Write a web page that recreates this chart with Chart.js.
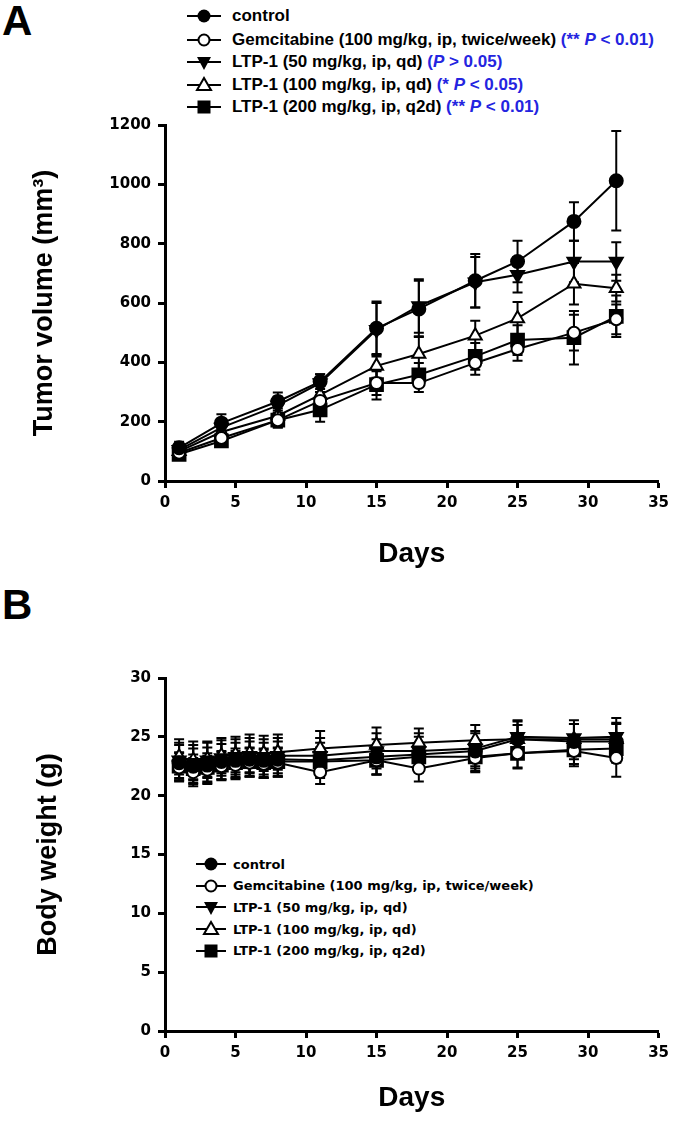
<!DOCTYPE html>
<html><head><meta charset="utf-8">
<script src="https://cdn.jsdelivr.net/npm/chart.js@4.4.0/dist/chart.umd.min.js"></script>
<style>
body{margin:0;width:675px;height:1124px;position:relative;background:#fff;overflow:hidden;font-family:"Liberation Sans",Arial,sans-serif;color:#000}
canvas{position:absolute;left:0}
.letter{position:absolute;font-weight:bold;font-size:42px;line-height:1;font-family:"Liberation Sans",Arial,sans-serif}
.row{position:absolute;white-space:nowrap;display:flex;align-items:center;height:18px}
.row svg{display:block;flex:none}
.legA{font:bold 17px "Liberation Sans",Arial,sans-serif}
.legB{font:bold 13px "DejaVu Sans",sans-serif}
.blue{color:#2424e0}
</style>
</head><body>
<div class="letter" style="left:2px;top:0px">A</div>
<div class="letter" style="left:2px;top:584px">B</div>
<div id="legA"></div>
<div id="legB"></div>
<canvas id="cA" width="675" height="475" style="top:105px"></canvas>
<canvas id="cB" width="675" height="469" style="top:655px"></canvas>
<script>
// ---------- data ----------
const seriesLabels = ["control","Gemcitabine (100 mg/kg, ip, twice/week)","LTP-1 (50 mg/kg, ip, qd)","LTP-1 (100 mg/kg, ip, qd)","LTP-1 (200 mg/kg, ip, q2d)"];
const pNotes = ["", "(** P < 0.01)", "(P > 0.05)", "(* P < 0.05)", "(** P < 0.01)"];

const tumorDays = [1,4,8,11,15,18,22,25,29,32];
const tvControl    = [112,195,268,335,515,580,675,740,875,1012];
const tvControlErr = [20,30,30,25,90,95,90,70,65,168];
const tvGem        = [95,145,205,270,330,330,398,445,500,545];
const tvGemErr     = [15,25,25,30,40,30,40,40,60,50];
const tvLtp50      = [105,180,255,330,510,590,670,695,740,740];
const tvLtp50Err   = [15,25,30,30,90,90,85,60,70,65];
const tvLtp100     = [100,165,220,290,388,428,490,548,665,650];
const tvLtp100Err  = [15,20,25,30,40,60,50,55,70,45];
const tvLtp200     = [90,135,205,240,325,358,420,475,483,555];
const tvLtp200Err  = [15,20,25,40,50,40,45,50,90,70];
const tumorTicks = [0,200,400,600,800,1000,1200];

const bwDays = [1,2,3,4,5,6,7,8,11,15,18,22,25,29,32];
const bwControl    = [22.8,22.5,22.6,22.9,23.0,23.1,23.0,23.1,23.0,23.3,23.5,23.8,24.8,24.6,24.6];
const bwControlErr = [1.5,1.5,1.5,1.5,1.5,1.5,1.5,1.5,1.5,1.5,1.5,1.5,1.5,1.5,1.5];
const bwGem        = [22.4,22.0,22.2,22.5,22.6,22.8,22.7,22.8,22.0,23.0,22.3,23.2,23.6,23.8,23.2];
const bwGemErr     = [1.2,1.2,1.2,1.2,1.2,1.2,1.2,1.2,1.0,1.2,1.1,1.2,1.3,1.3,1.6];
const bwLtp50      = [23.0,22.8,23.0,23.2,23.3,23.4,23.3,23.4,23.4,23.8,23.8,24.0,25.0,24.9,25.0];
const bwLtp50Err   = [1.5,1.5,1.5,1.5,1.5,1.5,1.5,1.5,1.5,1.5,1.5,1.5,1.4,1.5,1.6];
const bwLtp100     = [23.3,23.0,23.1,23.4,23.5,23.6,23.6,23.7,24.0,24.3,24.5,24.7,24.8,24.8,24.8];
const bwLtp100Err  = [1.5,1.6,1.5,1.5,1.5,1.6,1.5,1.5,1.5,1.5,1.2,1.3,1.2,1.3,1.4];
const bwLtp200     = [22.5,22.3,22.4,22.6,22.8,22.9,22.8,22.9,22.9,23.0,23.3,23.3,23.6,23.9,24.0];
const bwLtp200Err  = [1.2,1.2,1.2,1.2,1.2,1.2,1.2,1.2,1.2,1.2,1.2,1.2,1.2,1.2,1.2];
const bwTicks = [0,5,10,15,20,25,30];
const dayTicks = [0,5,10,15,20,25,30,35];

// ---------- styles ----------
const markerStyles = [
  {pointStyle:'circle', pointRadius:6.5, pointBackgroundColor:'#000', pointRotation:0},
  {pointStyle:'circle', pointRadius:6, pointBackgroundColor:'#fff', pointRotation:0},
  {pointStyle:'triangle', pointRadius:7.5, pointBackgroundColor:'#000', pointRotation:180},
  {pointStyle:'triangle', pointRadius:7.5, pointBackgroundColor:'#fff', pointRotation:0},
  {pointStyle:'rect', pointRadius:9, pointBackgroundColor:'#000', pointRotation:0}
];

const errorBarPlugin = {
  id:'errbars',
  beforeDatasetsDraw(chart){
    const ctx = chart.ctx, ys = chart.scales.y;
    chart.data.datasets.forEach((ds,i)=>{
      if(!ds.errors) return;
      const meta = chart.getDatasetMeta(i);
      ctx.save(); ctx.strokeStyle='#000'; ctx.lineWidth=2;
      meta.data.forEach((pt,j)=>{
        const v = ds.data[j].y, e = ds.errors[j];
        const yt = ys.getPixelForValue(v+e), yb = ys.getPixelForValue(v-e);
        ctx.beginPath();
        ctx.moveTo(pt.x,yt); ctx.lineTo(pt.x,yb);
        ctx.moveTo(pt.x-5,yt); ctx.lineTo(pt.x+5,yt);
        ctx.moveTo(pt.x-5,yb); ctx.lineTo(pt.x+5,yb);
        ctx.stroke();
      });
      ctx.restore();
    });
  }
};

function makeDatasets(days, vals, errs){
  return vals.map((arr,i)=>Object.assign({
    label: seriesLabels[i],
    data: days.map((d,j)=>({x:d,y:arr[j]})),
    errors: errs[i],
    borderColor:'#000', borderWidth:2,
    pointBorderColor:'#000', pointBorderWidth:2,
    tension:0, fill:false
  }, markerStyles[i]));
}

const tickFont = {family:'"DejaVu Sans", sans-serif', weight:'bold', size:15};

function makeChart(id, days, vals, errs, yMax, yTicks, yTitle, padTop, xH, yTitlePad){
  return new Chart(document.getElementById(id), {
    type:'line',
    data:{datasets: makeDatasets(days, vals, errs)},
    plugins:[errorBarPlugin],
    options:{
      responsive:false, animation:false, devicePixelRatio:1,
      layout:{padding:{top:padTop,right:14,left:0,bottom:0}},
      plugins:{legend:{display:false}, tooltip:{enabled:false}},
      scales:{
        x:{type:'linear', min:0, max:35,
           afterBuildTicks:s=>{s.ticks = dayTicks.map(v=>({value:v}));},
           ticks:{font:tickFont, color:'#000', padding:6, maxRotation:0, callback:v=>String(v)},
           grid:{drawOnChartArea:false, drawTicks:true, tickLength:7, tickWidth:3, tickColor:'#000'},
           border:{display:true, width:3, color:'#000'},
           title:{display:true, text:'Days', color:'#000', font:{family:'"Liberation Sans", Arial, sans-serif', weight:'bold', size:28}, padding:{top:0,bottom:9}},
           afterFit:s=>{s.height = xH;}
        },
        y:{type:'linear', min:0, max:yMax,
           afterBuildTicks:s=>{s.ticks = yTicks.map(v=>({value:v}));},
           ticks:{font:tickFont, color:'#000', padding:7, callback:v=>String(v)},
           grid:{drawOnChartArea:false, drawTicks:true, tickLength:7, tickWidth:3, tickColor:'#000'},
           border:{display:true, width:3, color:'#000'},
           title:{display:true, text:yTitle, color:'#000', font:{family:'"Liberation Sans", Arial, sans-serif', weight:'bold', size:27}, padding:{top:yTitlePad,bottom:0}},
           afterFit:s=>{s.width = 165;}
        }
      }
    }
  });
}

makeChart('cA', tumorDays,
  [tvControl,tvGem,tvLtp50,tvLtp100,tvLtp200],
  [tvControlErr,tvGemErr,tvLtp50Err,tvLtp100Err,tvLtp200Err],
  1200, tumorTicks, 'Tumor volume (mm\u00B3)', 20, 99, 28);

makeChart('cB', bwDays,
  [bwControl,bwGem,bwLtp50,bwLtp100,bwLtp200],
  [bwControlErr,bwGemErr,bwLtp50Err,bwLtp100Err,bwLtp200Err],
  30, bwTicks, 'Body weight (g)', 23, 93, 32);

// ---------- legends ----------
function symbolSVG(i, w){
  const c = w/2, y = 9;
  let m = '';
  if(i===0) m = `<circle cx="${c}" cy="${y}" r="6.5" fill="#000"/>`;
  if(i===1) m = `<circle cx="${c}" cy="${y}" r="5.5" fill="#fff" stroke="#000" stroke-width="2"/>`;
  if(i===2) m = `<polygon points="${c-7},${y-5} ${c+7},${y-5} ${c},${y+8}" fill="#000"/>`;
  if(i===3) m = `<polygon points="${c-7},${y+5} ${c+7},${y+5} ${c},${y-7}" fill="#fff" stroke="#000" stroke-width="2"/>`;
  if(i===4) m = `<rect x="${c-6.5}" y="${y-6.5}" width="13" height="13" fill="#000"/>`;
  return `<svg width="${w}" height="18"><line x1="0" y1="${y}" x2="${w}" y2="${y}" stroke="#000" stroke-width="2"/>${m}</svg>`;
}
function escapeP(s){
  if(!s) return '';
  const parts = s.split('P');
  const esc = t=>t.replace(/</g,'&lt;').replace(/>/g,'&gt;');
  return '&nbsp;<span class="blue">' + esc(parts[0]) + '<i>P</i>' + esc(parts[1]) + '</span>';
}
const rowsA = [16,39.5,62,84.5,107];
let hA = '';
seriesLabels.forEach((lab,i)=>{
  hA += `<div class="row legA" style="left:187px;top:${rowsA[i]-9}px">${symbolSVG(i,34)}<span style="margin-left:11px">${lab}${escapeP(pNotes[i])}</span></div>`;
});
document.getElementById('legA').innerHTML = hA;
const rowsB = [864,885.7,907.4,929,950.8];
let hB = '';
seriesLabels.forEach((lab,i)=>{
  hB += `<div class="row legB" style="left:196px;top:${rowsB[i]-9}px">${symbolSVG(i,30)}<span style="margin-left:7px">${lab}</span></div>`;
});
document.getElementById('legB').innerHTML = hB;
</script>
</body></html>
